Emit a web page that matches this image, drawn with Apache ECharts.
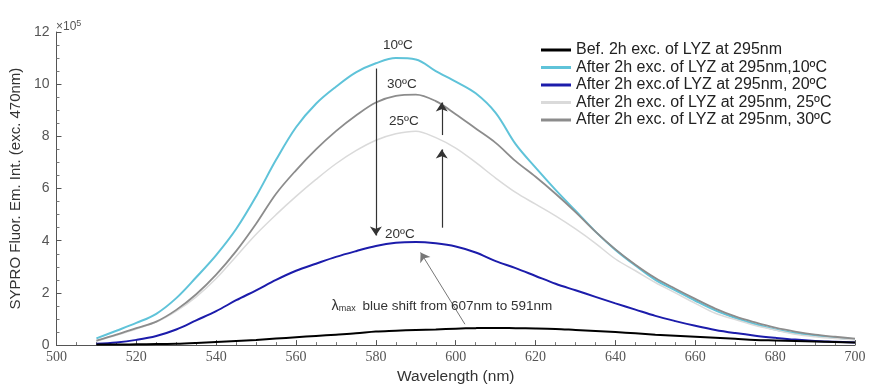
<!DOCTYPE html>
<html><head><meta charset="utf-8">
<script src="https://cdn.jsdelivr.net/npm/echarts@6/dist/echarts.min.js"></script>
<style>html,body{margin:0;padding:0;background:#fff}#c{width:872px;height:390px}</style>
</head><body><div id="c"></div>
<script>
const wavelengths = [510,515,520,525,530,535,540,545,550,555,560,565,570,575,580,585,590,595,600,605,610,615,620,625,630,635,640,645,650,655,660,665,670,675,680,685,690,695,700];
const before = [0.02,0.02,0.03,0.04,0.05,0.08,0.12,0.16,0.2,0.25,0.3,0.35,0.4,0.45,0.52,0.55,0.58,0.6,0.63,0.65,0.66,0.65,0.64,0.62,0.58,0.54,0.5,0.45,0.4,0.36,0.32,0.28,0.24,0.2,0.18,0.16,0.14,0.12,0.1];
const t10 = [0.26,0.55,0.85,1.2,1.8,2.6,3.45,4.45,5.7,7.1,8.35,9.25,9.9,10.45,10.8,11.0,10.95,10.5,10.1,9.65,8.9,7.7,6.8,5.95,5.15,4.35,3.65,3.05,2.5,2.1,1.7,1.33,1.04,0.8,0.6,0.46,0.36,0.28,0.22];
const t20 = [0.05,0.1,0.2,0.35,0.6,0.95,1.3,1.72,2.1,2.5,2.85,3.12,3.38,3.6,3.8,3.92,3.95,3.9,3.78,3.55,3.22,2.95,2.65,2.35,2.1,1.85,1.6,1.36,1.12,0.92,0.74,0.58,0.46,0.36,0.28,0.21,0.16,0.13,0.1];
const t25 = [0.15,0.38,0.62,0.88,1.3,1.85,2.55,3.4,4.25,5.0,5.7,6.35,6.95,7.45,7.85,8.1,8.2,7.95,7.55,7.0,6.4,5.85,5.4,4.95,4.45,3.9,3.3,2.85,2.4,2.0,1.6,1.22,0.98,0.75,0.58,0.42,0.32,0.25,0.2];
const t30 = [0.17,0.4,0.65,0.9,1.35,1.95,2.7,3.6,4.65,5.8,6.7,7.5,8.2,8.8,9.3,9.55,9.6,9.35,8.85,8.3,7.75,7.05,6.45,5.8,5.1,4.35,3.67,3.08,2.57,2.16,1.77,1.4,1.1,0.87,0.67,0.52,0.4,0.32,0.25];
const seriesNames = ['Bef. 2h exc. of LYZ at 295nm','After 2h exc. of LYZ at 295nm,10ºC','After 2h exc.of LYZ at 295nm, 20ºC','After 2h exc. of LYZ at 295nm, 25ºC','After 2h exc. of LYZ at 295nm, 30ºC'];
const tempLabels = [['10ºC',585.5,11.5],['30ºC',586.5,10.0],['25ºC',587,8.56],['20ºC',586,4.25]];
const arrows = [[[580,10.6],[580,4.2]],[[596.5,4.5],[596.5,7.5]],[[596.5,8.05],[596.5,9.3]]];
const shiftArrow = [[602.3,0.8],[591.2,3.55]];

const FONT = 'Liberation Sans, Arial, sans-serif';
const pair = (ys) => wavelengths.map((x,i)=>[x,ys[i]]);
const colors = ['#000000','#5fc3d9','#1c1cab','#dadada','#8c8c8c'];
const widths = [2,2,2,1.5,1.8];
const vals = [before,t10,t20,t25,t30];
const series = vals.map((v,i)=>({
  name: seriesNames[i], type:'line', data: pair(v), symbol:'none', showSymbol:false, smooth:0.35,
  lineStyle:{color:colors[i], width:widths[i]}, itemStyle:{color:colors[i]}, z: i===0?5:3
}));
series[0].markLine = {silent:true, symbol:['none','arrow'], symbolSize:9,
    lineStyle:{color:'#333', width:1.2, type:'solid'}, itemStyle:{color:'#333'}, label:{show:false},
    data: arrows.map(a=>[{coord:a[0]},{coord:a[1]}]).concat([[{coord:shiftArrow[0], lineStyle:{color:'#777',width:1}},{coord:shiftArrow[1]}]])
};
series[0].markPoint = {silent:true, symbol:'rect', symbolSize:1, itemStyle:{color:'rgba(0,0,0,0)'},
    label:{show:true, position:'inside', color:'#333', fontSize:13.5, fontFamily:FONT},
    data: tempLabels.map(t=>({coord:[t[1],t[2]], value:t[0], label:{formatter:t[0]}})).concat([
      {coord:[567.5,1.5], value:'x', label:{position:'right', formatter:'{l|λ}{s|max} blue shift from 607nm to 591nm',
        rich:{l:{fontSize:14.5,color:'#333',fontFamily:FONT}, s:{fontSize:9,color:'#333',verticalAlign:'bottom',padding:[6,3,0,0],fontFamily:FONT}}}}
    ])
};

const chart = echarts.init(document.getElementById('c'));
chart.setOption({
  animation:false,
  backgroundColor:'#fff',
  grid:{left:54,right:17,top:32,bottom:37},
  legend:{data:seriesNames, orient:'vertical', left:541, top:42, padding:0, icon:'rect', itemWidth:30, itemHeight:3, itemGap:1.5,
    textStyle:{fontSize:16, lineHeight:16, color:'#222', fontFamily:FONT}},
  xAxis:{type:'value', min:500, max:700, interval:20,
    name:'Wavelength (nm)', nameLocation:'middle', nameGap:22,
    nameTextStyle:{fontSize:15.5,color:'#333',fontFamily:FONT},
    axisLine:{lineStyle:{color:'#555'}}, axisTick:{inside:true,length:5,lineStyle:{color:'#555'}},
    minorTick:{show:true, splitNumber:4, length:3, lineStyle:{color:'#777'}},
    splitLine:{show:false},
    axisLabel:{color:'#555', fontSize:14, fontFamily:'Liberation Serif, serif', margin:5}},
  yAxis:{type:'value', min:0, max:12, interval:2,
    name:'SYPRO Fluor. Em. Int. (exc. 470nm)', nameLocation:'middle', nameGap:32,
    nameTextStyle:{fontSize:15,color:'#333',fontFamily:FONT},
    axisLine:{show:true,lineStyle:{color:'#555'}}, axisTick:{show:true,inside:true,length:5,lineStyle:{color:'#555'}},
    minorTick:{show:true, splitNumber:4, length:3, lineStyle:{color:'#777'}},
    splitLine:{show:false},
    axisLabel:{color:'#555', fontSize:14, fontFamily:FONT, margin:7}},
  graphic:[{type:'text', left:56, top:19, style:{text:'×10{s|5}', fill:'#555', fontSize:12, fontFamily:FONT,
    rich:{s:{fontSize:9, verticalAlign:'top', padding:[0,0,7,0], fill:'#555', fontFamily:FONT}}}}],
  series: series
});
</script></body></html>
